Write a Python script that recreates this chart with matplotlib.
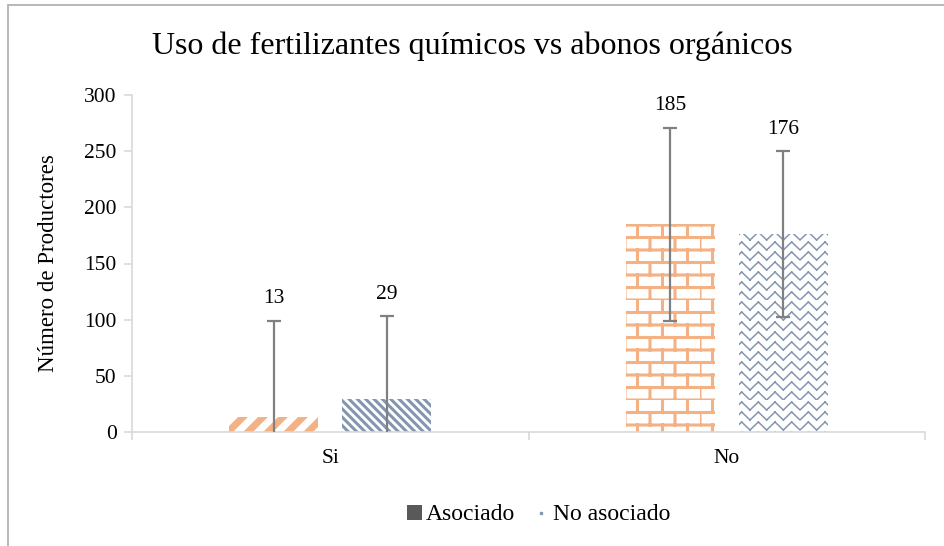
#! /usr/bin/env python3

import warnings
import numpy as np
import matplotlib
matplotlib.use("Agg")
import matplotlib.pyplot as plt
import matplotlib.hatch as mhatch
from matplotlib.path import Path
from matplotlib.patches import Rectangle, Patch
from matplotlib.lines import Line2D

warnings.filterwarnings("ignore")

categories = ["Si", "No"]
series = ["Asociado", "No asociado"]
asociado = [13, 185]
no_asociado = [29, 176]
err_asociado = [86, 86]
err_no_asociado = [74, 74]
yticks = [0, 50, 100, 150, 200, 250, 300]

ORANGE = "#F4B183"
BLUE = "#8497B0"
AXIS = "#D9D9D9"


# wide diagonal stripes, 'd'
class WideStripe(mhatch.NorthEastHatch):
    def __init__(self, hatch, density):
        self.num_lines = 10 if "d" in hatch else 0
        self.num_vertices = (self.num_lines + 1) * 2 if self.num_lines else 0


# brick pattern, 'b'
class BrickHatch(mhatch.HatchPatternBase):
    rows = 8
    per_row = 4

    def __init__(self, hatch, density):
        self.on = "b" in hatch
        self.num_vertices = (self.rows * 2 + self.rows * self.per_row * 2) if self.on else 0

    def set_vertices_and_codes(self, vertices, codes):
        k = 0
        for i in range(self.rows):
            y = i / self.rows
            vertices[k] = (0.0, y)
            vertices[k + 1] = (1.0, y)
            codes[k] = Path.MOVETO
            codes[k + 1] = Path.LINETO
            k += 2
            for j in range(self.per_row):
                x = (j + 0.5 * (i % 2)) / self.per_row
                vertices[k] = (x, y)
                vertices[k + 1] = (x, y + 1 / self.rows)
                codes[k] = Path.MOVETO
                codes[k + 1] = Path.LINETO
                k += 2


# zigzag weave, 'z' -- separate segments so agg does not fill them
class ZigzagHatch(mhatch.HatchPatternBase):
    rows = 10
    teeth = 6

    def __init__(self, hatch, density):
        self.on = "z" in hatch
        self.num_vertices = self.rows * self.teeth * 2 * 2 if self.on else 0

    def set_vertices_and_codes(self, vertices, codes):
        k = 0
        h = 1 / self.rows
        xs = np.linspace(0, 1, self.teeth * 2 + 1)
        for i in range(self.rows):
            y0 = i * h
            for m in range(len(xs) - 1):
                ya = y0 + (h * 0.8 if m % 2 else 0.0)
                yb = y0 + (0.0 if m % 2 else h * 0.8)
                vertices[k] = (xs[m], ya)
                vertices[k + 1] = (xs[m + 1], yb)
                codes[k] = Path.MOVETO
                codes[k + 1] = Path.LINETO
                k += 2


mhatch._hatch_types.extend([WideStripe, BrickHatch, ZigzagHatch])


def hatched_bar(ax, x, h, w, color, hatch, lw):
    plt.rcParams["hatch.linewidth"] = lw
    bars = ax.bar(x, h, w, facecolor="white", edgecolor=color, linewidth=0,
                  hatch=hatch, zorder=2)
    for b in bars:
        if hasattr(b, "set_hatch_linewidth"):
            b.set_hatch_linewidth(lw)
    return bars


def main():
    plt.rcParams["font.family"] = ["Liberation Serif", "DejaVu Serif"]
    fig = plt.figure(figsize=(9.44, 5.46), dpi=100)
    ax = fig.add_axes([132 / 944, 1 - 432 / 546, (925 - 132) / 944, (432 - 95) / 546])

    x = np.arange(len(categories))
    w = 0.2245
    off = 0.1425

    # Si bars use stripes, No bars use bricks / weave
    hatched_bar(ax, x[0] - off, asociado[0], w, ORANGE, "d", 5)
    hatched_bar(ax, x[0] + off, no_asociado[0], w, BLUE, "\\\\\\\\", 2.2)
    hatched_bar(ax, x[1] - off, asociado[1], w, ORANGE, "b", 2.2)
    hatched_bar(ax, x[1] + off, no_asociado[1], w, BLUE, "z", 1.1)

    ax.errorbar(x - off, asociado, yerr=err_asociado, fmt="none", ecolor="#808080",
                elinewidth=1.6, capsize=5, capthick=1.6, zorder=3)
    ax.errorbar(x + off, no_asociado, yerr=err_no_asociado, fmt="none", ecolor="#808080",
                elinewidth=1.6, capsize=5, capthick=1.6, zorder=3)

    for xi, v, e in zip(x - off, asociado, err_asociado):
        ax.text(xi, v + e + 11, str(v), ha="center", va="bottom", fontsize=15.5)
    for xi, v, e in zip(x + off, no_asociado, err_no_asociado):
        ax.text(xi, v + e + 11, str(v), ha="center", va="bottom", fontsize=15.5)

    ax.set_xlim(-0.5, 1.5)
    ax.set_ylim(0, 300)
    ax.set_yticks(yticks)
    ax.set_yticklabels([str(t) for t in yticks], fontsize=15.5)
    ax.set_xticks(x)
    ax.set_xticklabels(categories, fontsize=15.5)
    ax.tick_params(axis="x", length=0, pad=12)
    ax.tick_params(axis="y", length=6, color=AXIS, width=1.2, pad=5)
    # category boundary ticks on x axis
    ax.set_xticks([-0.5, 0.5, 1.5], minor=True)
    ax.tick_params(axis="x", which="minor", length=6, color=AXIS, width=1.2)

    for s in ["top", "right"]:
        ax.spines[s].set_visible(False)
    ax.spines["left"].set_color(AXIS)
    ax.spines["bottom"].set_color(AXIS)
    ax.spines["left"].set_linewidth(1.2)
    ax.spines["bottom"].set_linewidth(1.2)

    ax.set_ylabel("Número de Productores", fontsize=16.5, labelpad=18)
    fig.text(0.5, 1 - 46 / 546, "Uso de fertilizantes químicos vs abonos orgánicos",
             ha="center", va="center", fontsize=23)

    handles = [Patch(facecolor="#595959", edgecolor="none"),
               Line2D([], [], linestyle="none", marker="s", markersize=1.5,
                      color=BLUE)]
    fig.legend(handles, series, loc="center", bbox_to_anchor=(539 / 944, 1 - 515 / 546),
               ncol=2, frameon=False, fontsize=17, handlelength=0.6,
               handleheight=0.6, handletextpad=0.2, columnspacing=0.8)

    fig.patches.append(Rectangle((8 / 944, -0.1), 1.2, 1 - 5 / 546 + 0.1,
                                 transform=fig.transFigure, fill=False,
                                 edgecolor="#ABABAB", linewidth=1.2))

    fig.savefig("out.png", dpi=100)


if __name__ == "__main__":
    main()
